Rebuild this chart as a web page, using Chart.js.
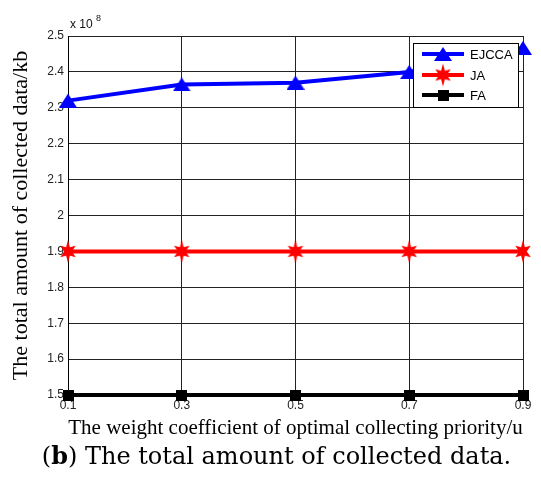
<!DOCTYPE html>
<html>
<head>
<meta charset="utf-8">
<script src="https://cdn.jsdelivr.net/npm/chart.js@4.4.0/dist/chart.umd.min.js"></script>
<style>
html, body { margin: 0; padding: 0; background: #fff; overflow: hidden; }
#wrap { position: relative; width: 541px; height: 477px; }
#caption {
    position: absolute; left: 6px; top: 441px; width: 541px;
    text-align: center; font-family: "DejaVu Serif", "Liberation Serif", serif;
    font-size: 24px; color: #000; white-space: nowrap;
}
</style>
</head>
<body>
<div id="wrap">
    <canvas id="chart" width="541" height="477"></canvas>
    <div id="caption">(<b>b</b>) The total amount of collected data.</div>
</div>
<script>
// data in units of 10^8 kb
const weights = [0.1, 0.3, 0.5, 0.7, 0.9];
const ejccaValues = [2.32, 2.365, 2.37, 2.40, 2.467];
const jaValues = [1.9, 1.9, 1.9, 1.9, 1.9];
const faValues = [1.5, 1.5, 1.5, 1.5, 1.5];
const seriesNames = ['EJCCA', 'JA', 'FA'];

// marker images
function makeTriangle(w, h, color) {
    const c = document.createElement('canvas');
    c.width = w; c.height = h;
    const g = c.getContext('2d');
    g.fillStyle = color;
    g.beginPath();
    g.moveTo(w / 2, 0);
    g.lineTo(w, h);
    g.lineTo(0, h);
    g.closePath();
    g.fill();
    return c;
}

function makeStar(ry, rx, color) {
    const c = document.createElement('canvas');
    c.width = Math.ceil(rx * 2) + 2;
    c.height = Math.ceil(ry * 2) + 2;
    const g = c.getContext('2d');
    const cx = c.width / 2, cy = c.height / 2;
    g.fillStyle = color;
    g.beginPath();
    for (let i = 0; i < 12; i++) {
        const a = i * Math.PI / 6;
        const k = i % 2 === 0 ? 1 : 0.42;
        g.lineTo(cx + rx * k * Math.sin(a), cy - ry * k * Math.cos(a));
    }
    g.closePath();
    g.fill();
    return c;
}

function makeSquare(s, color) {
    const c = document.createElement('canvas');
    c.width = s; c.height = s;
    const g = c.getContext('2d');
    g.fillStyle = color;
    g.fillRect(0, 0, s, s);
    return c;
}

const markers = [
    makeTriangle(18, 14, '#0000ff'),
    makeStar(11.5, 9, '#ff0000'),
    makeSquare(11, '#000000')
];
const colors = ['#0000ff', '#ff0000', '#000000'];

// legend box + exponent label
const extrasPlugin = {
    id: 'extras',
    afterDraw: function (chart) {
        const ctx = chart.ctx;
        const area = chart.chartArea;
        ctx.save();

        // x 10^8
        ctx.fillStyle = '#111';
        ctx.textBaseline = 'alphabetic';
        ctx.font = '12px "Liberation Sans", Arial, sans-serif';
        ctx.fillText('x 10', area.left + 2, area.top - 8);
        ctx.font = '9px "Liberation Sans", Arial, sans-serif';
        ctx.fillText('8', area.left + 28, area.top - 15);

        // legend
        const bx = 413, by = 43, bw = 105, bh = 64;
        ctx.fillStyle = '#fff';
        ctx.fillRect(bx, by, bw, bh);
        ctx.strokeStyle = '#000';
        ctx.lineWidth = 1;
        ctx.strokeRect(bx + 0.5, by + 0.5, bw, bh);

        const rows = [54, 75, 95];
        ctx.font = '13px "Liberation Sans", Arial, sans-serif';
        ctx.textBaseline = 'middle';
        seriesNames.forEach((name, i) => {
            const y = rows[i];
            ctx.strokeStyle = colors[i];
            ctx.lineWidth = 4;
            ctx.beginPath();
            ctx.moveTo(422, y);
            ctx.lineTo(464, y);
            ctx.stroke();
            const m = markers[i];
            ctx.drawImage(m, 443 - m.width / 2, y - m.height / 2);
            ctx.fillStyle = '#000';
            ctx.fillText(name, 470, y + 1);
        });
        ctx.restore();
    }
};

function fmt(v) {
    return String(Math.round(v * 10) / 10);
}

const datasets = [ejccaValues, jaValues, faValues].map((vals, i) => ({
    label: seriesNames[i],
    data: vals.map((v, j) => ({ x: weights[j], y: v })),
    borderColor: colors[i],
    backgroundColor: colors[i],
    borderWidth: 4,
    pointStyle: markers[i],
    pointRadius: 8,
    pointHoverRadius: 8,
    tension: 0,
    clip: false
}));

new Chart(document.getElementById('chart').getContext('2d'), {
    type: 'line',
    data: { datasets: datasets },
    options: {
        responsive: false,
        animation: false,
        events: [],
        layout: { padding: { left: 0, right: 18, top: 36, bottom: 36 } },
        plugins: {
            legend: { display: false },
            tooltip: { enabled: false }
        },
        scales: {
            x: {
                type: 'linear',
                min: 0.1,
                max: 0.9,
                afterBuildTicks: function (scale) {
                    scale.ticks = weights.map(v => ({ value: v }));
                },
                afterFit: function (scale) { scale.height = 46; },
                grid: { color: '#222', lineWidth: 1, drawTicks: false },
                border: { color: '#000', width: 1 },
                ticks: {
                    padding: 3,
                    color: '#222',
                    font: { family: '"Liberation Sans", Arial, sans-serif', size: 12 },
                    maxRotation: 0,
                    autoSkip: false,
                    callback: fmt
                },
                title: {
                    display: true,
                    text: 'The weight coefficient of optimal collecting priority/u',
                    color: '#000',
                    font: { family: '"Liberation Serif", "Times New Roman", serif', size: 21 },
                    padding: { top: 0, bottom: 0 }
                }
            },
            y: {
                min: 1.5,
                max: 2.5,
                afterFit: function (scale) { scale.width = 68; },
                grid: { color: '#222', lineWidth: 1, drawTicks: false },
                border: { color: '#000', width: 1 },
                ticks: {
                    stepSize: 0.1,
                    padding: 4,
                    color: '#222',
                    font: { family: '"Liberation Sans", Arial, sans-serif', size: 12 },
                    callback: fmt
                },
                title: {
                    display: true,
                    text: 'The total amount of collected data/kb',
                    color: '#000',
                    font: { family: '"Liberation Serif", "Times New Roman", serif', size: 22 },
                    padding: { top: 8, bottom: 0 }
                }
            }
        }
    },
    plugins: [extrasPlugin]
});
</script>
</body>
</html>
